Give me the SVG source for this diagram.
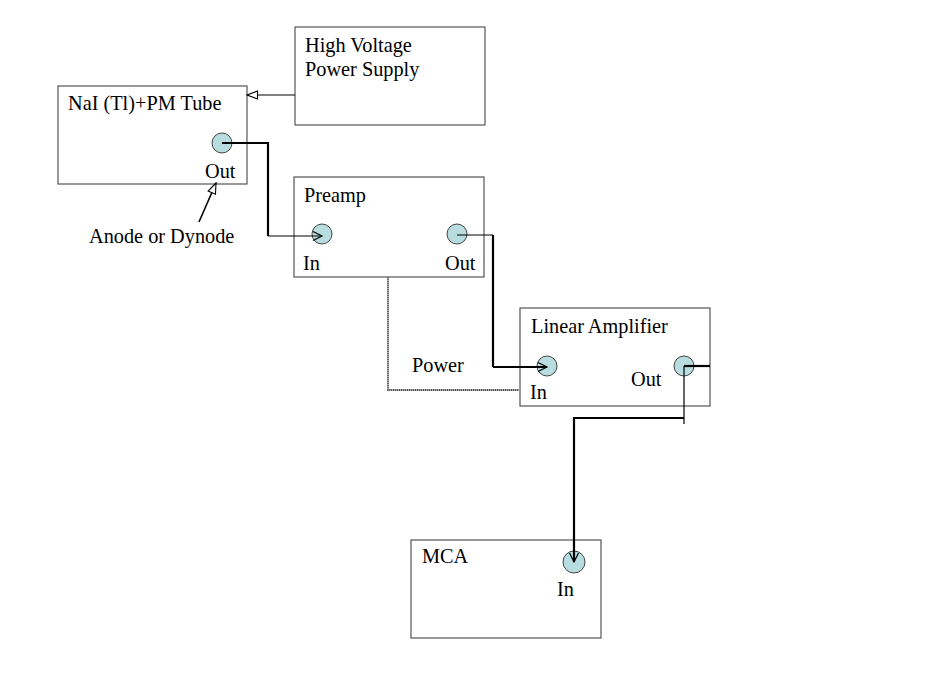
<svg xmlns="http://www.w3.org/2000/svg" width="946" height="696" viewBox="0 0 946 696">
<style>
.box{fill:#fff;stroke:#555;stroke-width:1.2}
.port{fill:#b8dde0;stroke:#444;stroke-width:1}
text{font-family:"Liberation Serif","Times New Roman",serif;font-size:20.3px;fill:#000}
.w1{fill:none;stroke:#000;stroke-width:1.2}
.w1b{fill:none;stroke:#000;stroke-width:1.6}
.w2{fill:none;stroke:#000;stroke-width:2.2}
.pw{fill:none;stroke:#555;stroke-width:1.8;stroke-dasharray:1.5 0.5}
</style>
<defs>
<marker id="open" markerWidth="13" markerHeight="11" refX="12" refY="5.5" orient="auto" markerUnits="userSpaceOnUse">
<path d="M12,5.5 L1.5,1.5 L1.5,9.5 Z" fill="#fff" stroke="#000" stroke-width="1.1"/>
</marker>
<marker id="chev" markerWidth="12" markerHeight="12" refX="10" refY="6" orient="auto" markerUnits="userSpaceOnUse">
<path d="M1,1.5 L10,6 L1,10.5" fill="none" stroke="#000" stroke-width="1.2"/>
</marker>
</defs>
<rect width="946" height="696" fill="#fff"/>
<g id="hv">
<rect class="box" x="295" y="27" width="190" height="98"/>
<text x="305" y="52">High Voltage</text>
<text x="305" y="76">Power Supply</text>
</g>
<g id="nai">
<rect class="box" x="58" y="86" width="189" height="98"/>
<text x="68" y="110">NaI (Tl)+PM Tube</text>
<circle class="port" cx="222" cy="143" r="10"/>
<text x="205" y="178">Out</text>
</g>
<g id="anode">
<text x="89" y="243">Anode or Dynode</text>
</g>
<g id="preamp">
<rect class="box" x="294" y="177" width="190" height="100"/>
<text x="304" y="202">Preamp</text>
<circle class="port" cx="322" cy="234" r="10"/>
<circle class="port" cx="457" cy="234" r="10"/>
<text x="303" y="270">In</text>
<text x="445" y="270">Out</text>
</g>
<g id="linamp">
<rect class="box" x="520" y="308" width="190" height="98"/>
<text x="531" y="333">Linear Amplifier</text>
<circle class="port" cx="547" cy="366" r="10"/>
<circle class="port" cx="684" cy="366" r="10"/>
<text x="631" y="386">Out</text>
<text x="530" y="399">In</text>
</g>
<g id="power">
<text x="412" y="372">Power</text>
</g>
<g id="mca">
<rect class="box" x="411" y="540" width="190" height="98"/>
<text x="422" y="563">MCA</text>
<circle class="port" cx="574" cy="562" r="11"/>
<text x="557" y="596">In</text>
</g>
<g id="connectors">
<line class="w1" x1="295" y1="95" x2="247" y2="95" marker-end="url(#open)"/>
<line class="w1b" x1="199" y1="222" x2="216" y2="183" marker-end="url(#open)"/>
<polyline class="w2" points="222,143 268,143 268,236"/>
<line class="w1" x1="268" y1="236" x2="322" y2="236" marker-end="url(#chev)"/>
<line class="w1" x1="457" y1="235" x2="493" y2="235"/>
<polyline class="w2" points="493,235 493,367"/>
<line class="w2" x1="493" y1="367" x2="547" y2="367" marker-end="url(#chev)"/>
<polyline class="pw" points="388,277 388,390 519,390"/>
<line class="w2" x1="684" y1="366" x2="710" y2="366"/>
<line class="w1" x1="684" y1="366" x2="684" y2="424"/>
<polyline class="w2" points="684,418 574,418 574,440"/>
<line class="w2" x1="574" y1="440" x2="574" y2="562" marker-end="url(#chev)"/>
</g>
</svg>
